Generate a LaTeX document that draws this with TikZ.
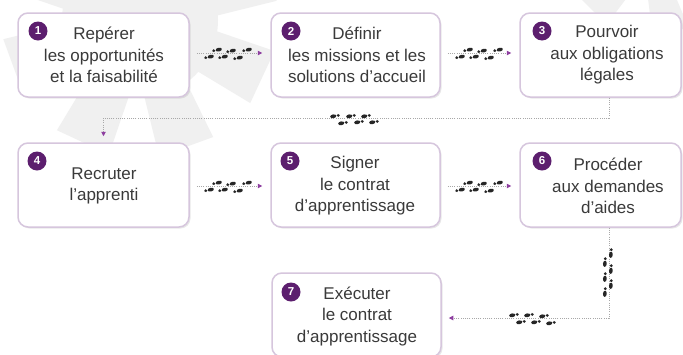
\documentclass[tikz,border=0pt]{standalone}
\usepackage{fontspec}
\setmainfont{Liberation Sans}
\usetikzlibrary{shadows,arrows.meta}
\definecolor{txt}{HTML}{3A3A3A}
\definecolor{badge}{HTML}{5C1E6E}
\definecolor{bord}{HTML}{D6C6DD}
\definecolor{tipc}{HTML}{8E3FA0}
\definecolor{dotc}{HTML}{A8A8A8}
\definecolor{gearc}{HTML}{F0F0F0}
\begin{document}
\begin{tikzpicture}[x=1pt,y=-1pt,
  stepbox/.style={draw=bord, line width=1.5pt, fill=white, rounded corners=10pt,
    drop shadow={shadow xshift=1.5pt, shadow yshift=-1.5pt, opacity=0.18, fill=gray},
    inner sep=0pt},
  steptext/.style={align=center, text=txt, font=\fontsize{17}{21.5}\selectfont, inner sep=0pt},
  num/.style={circle, fill=badge, text=white, font=\bfseries\fontsize{11.5}{11.5}\selectfont,
    minimum size=19pt, inner sep=0pt},
  link/.style={draw=dotc, line width=0.9pt, dash pattern=on 1pt off 1.2pt,
    -{Triangle[length=4.5pt,width=4.5pt,fill=tipc,color=tipc]}},
  foot/.pic={\fill[black!85] (1.8,0) ellipse[x radius=3.1pt, y radius=1.9pt];
             \fill[black!85] (-3.3,0) ellipse[x radius=1.6pt, y radius=1.5pt];}
]
\useasboundingbox (0,0) rectangle (683,354);
\fill[white] (0,0) rectangle (683,354);

% background gears
\begin{scope}[shift={(140,20)}]
  \fill[gearc] (0,0) circle[radius=78];
  \foreach \a in {25,70,115,160,205,250,295,340}
    \fill[gearc] ({\a-17}:75) -- ({\a-12}:138) -- ({\a+12}:138) -- ({\a+17}:75) -- cycle;
\end{scope}
\begin{scope}[shift={(650,-45)}]
  \fill[gearc] (0,0) circle[radius=45];
  \foreach \a in {15,75,135,195,255,315}
    \fill[gearc] ({\a-18}:42) -- ({\a-13}:82) -- ({\a+13}:82) -- ({\a+18}:42) -- cycle;
\end{scope}

% boxes
\node[stepbox, minimum width=171pt, minimum height=84pt] (b1) at (103.5,55) {};
\node[stepbox, minimum width=169pt, minimum height=84pt] (b2) at (355.5,55) {};
\node[stepbox, minimum width=161pt, minimum height=84pt] (b3) at (600.5,55) {};
\node[stepbox, minimum width=171pt, minimum height=84pt] (b4) at (103.5,185) {};
\node[stepbox, minimum width=169pt, minimum height=84pt] (b5) at (355.5,185) {};
\node[stepbox, minimum width=161pt, minimum height=84pt] (b6) at (600.5,185) {};
\node[stepbox, minimum width=169pt, minimum height=84pt] (b7) at (356.5,315) {};

% texts
\node[steptext] (t1) at (104,55) {Repérer\\les opportunités\\et la faisabilité};
\node[steptext] (t2) at (357,55) {Définir\\les missions et les\\solutions d’accueil};
\node[steptext] (t3) at (607,55) {Pourvoir\\aux obligations\\légales};
\node[steptext] (t4) at (104,186) {Recruter\\l’apprenti};
\node[steptext] (t5) at (355,186) {Signer\\le contrat\\d’apprentissage};
\node[steptext] (t6) at (608,186) {Procéder\\aux demandes\\d’aides};
\node[steptext] (t7) at (357,316) {Exécuter\\le contrat\\d’apprentissage};

% badges
\node[num] (n1) at (38,31) {1};
\node[num] (n2) at (291,31) {2};
\node[num] (n3) at (542,31) {3};
\node[num] (n4) at (37,161) {4};
\node[num] (n5) at (290,161) {5};
\node[num] (n6) at (542,161) {6};
\node[num] (n7) at (291,292) {7};

% connectors
\draw[link, shorten <=7pt, shorten >=8pt] ([yshift=2pt]b1.east) -- ([yshift=2pt]b2.west);
\draw[link, shorten <=7pt, shorten >=8pt] ([yshift=2pt]b2.east) -- ([yshift=2pt]b3.west);
\draw[link, shorten <=7pt, shorten >=8pt] ([yshift=-1pt]b4.east) -- ([yshift=-1pt]b5.west);
\draw[link, shorten <=7pt, shorten >=8pt] ([yshift=-1pt]b5.east) -- ([yshift=-1pt]b6.west);
\coordinate (k1) at (609,118);
\coordinate (k2) at (103.5,118);
\draw[link, shorten >=6pt] ([xshift=8.5pt]b3.south) -- (k1) -- (k2) -- (b4.north);
\coordinate (k3) at (609,318);
\draw[link, shorten >=7pt] ([xshift=8.5pt]b6.south) -- (k3) -- (b7.east |- k3);

% footprints
\foreach \x/\y in {209/57,217/50,223/57,231/51,238/58,247/50}{
  \pic[rotate=12] at (\x,\y) {foot};
  \pic[rotate=12] at (\x+251,\y) {foot};
  \pic[rotate=12] at (\x,\y+133) {foot};
  \pic[rotate=12] at (\x+251,\y+133) {foot};
}
\foreach \x/\y in {335/116,343/123,351/116,359/122,366/116,374/122}
  \pic[rotate=190] at (\x,\y) {foot};
\foreach \x/\y in {611/253,605/262,611/269,605/277,611/284,605/292}
  \pic[rotate=-95] at (\x,\y) {foot};
\foreach \x/\y in {514/315,521/322,529/315,536/322,544/316,551/323}
  \pic[rotate=190] at (\x,\y) {foot};
\end{tikzpicture}
\end{document}
